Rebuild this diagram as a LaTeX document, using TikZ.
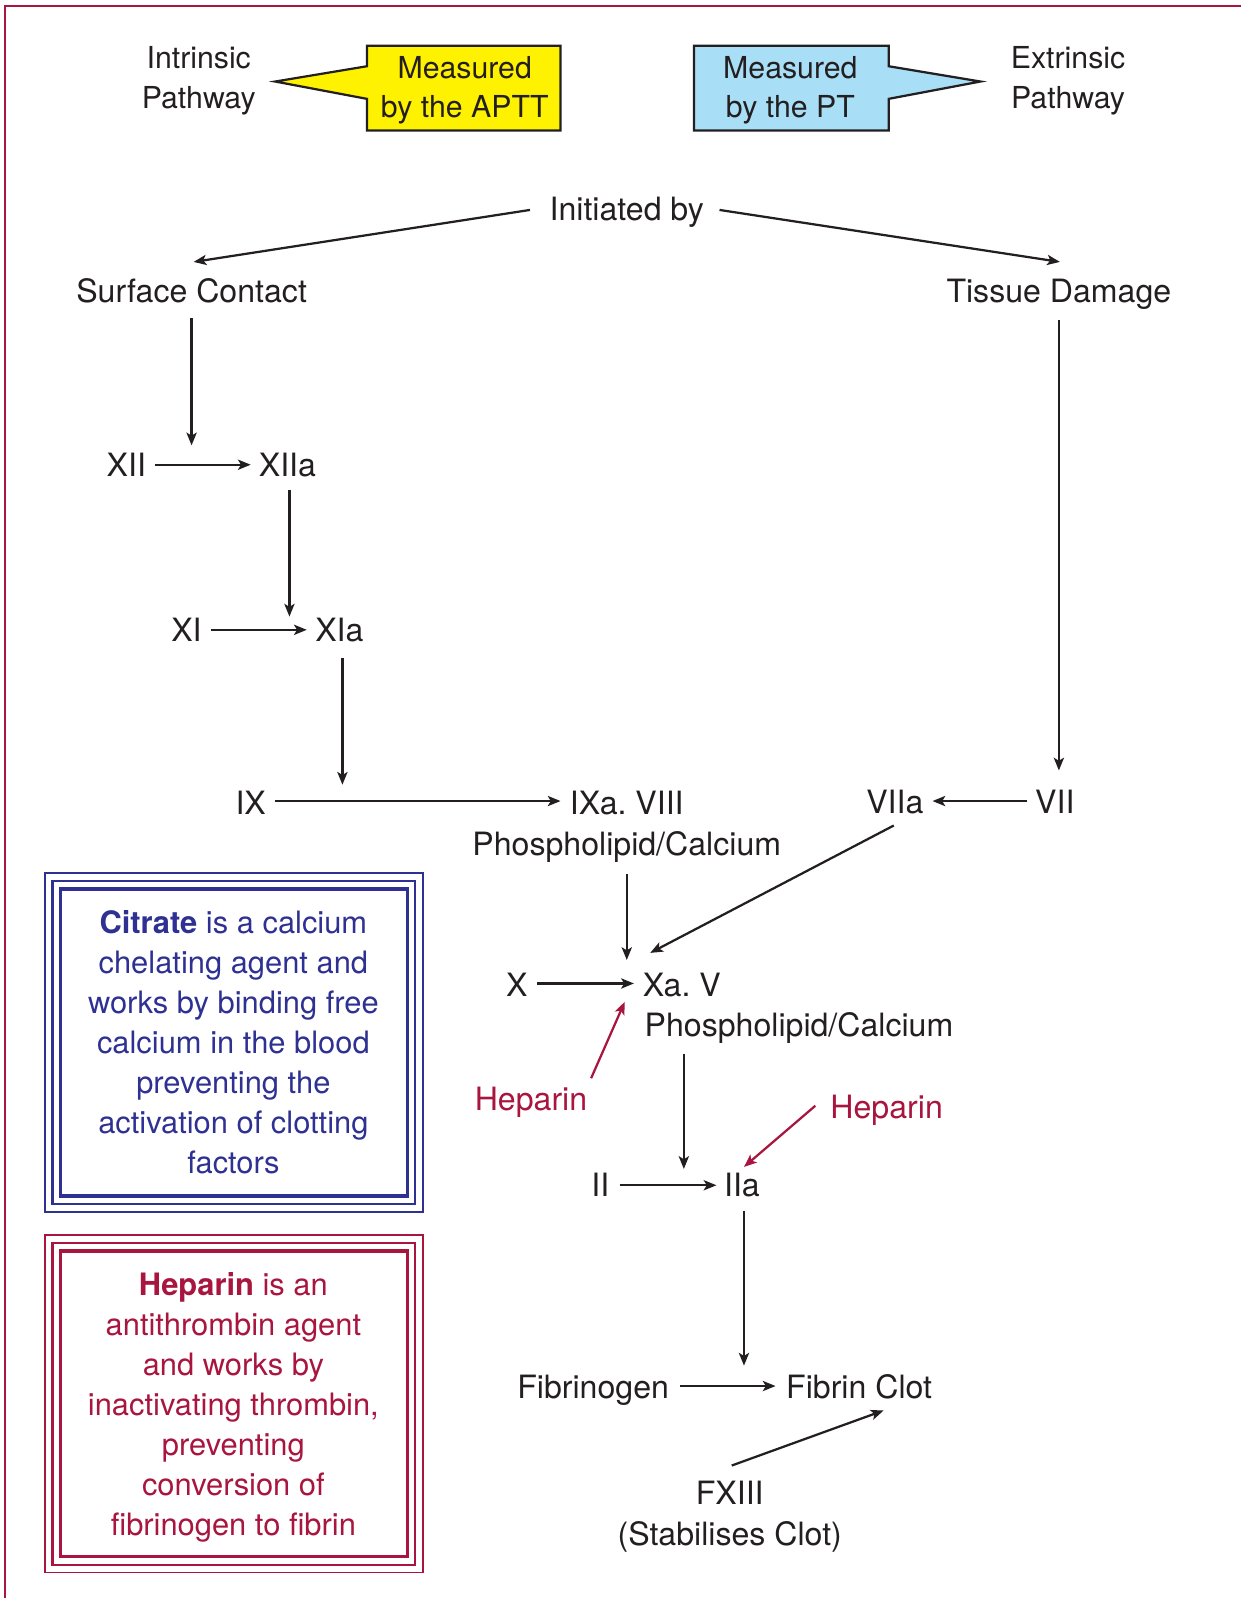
\documentclass[tikz,border=0pt]{standalone}
\usepackage{fontspec}
\setmainfont{TeX Gyre Heros}
\usetikzlibrary{arrows.meta}
\definecolor{ink}{RGB}{35,31,32}
\definecolor{crim}{RGB}{168,21,62}
\definecolor{navy}{RGB}{46,49,146}
\definecolor{ylw}{RGB}{255,242,0}
\definecolor{sky}{RGB}{168,222,246}
\frenchspacing
\begin{document}
\begin{tikzpicture}[x=1pt,y=-1pt,
  lab/.style={font=\fontsize{31.5}{39.3}\selectfont, text=ink, text height=22.7pt, text depth=0pt, inner sep=0pt},
  heplab/.style={lab, text=crim},
  multi/.style={align=center, inner sep=0pt, anchor=base},
  toptxt/.style={multi, font=\fontsize{29.7}{39}\selectfont, text=ink},
  boxtxt/.style={multi, font=\fontsize{30.3}{39.2}\selectfont},
  arr/.style={line width=2.2pt, draw=ink, -{Stealth[length=12.5pt,width=10pt,inset=3pt]}},
  harr/.style={arr, draw=crim},
  callout/.style={draw=ink, line width=2.2pt, line join=miter},
  frameline/.style={draw=crim, line width=2.2pt}
]
\useasboundingbox (0,0) rectangle (1217,1568);
% outer frame
\draw[frameline] (4.9,1570) -- (4.9,5.9) -- (1220,5.9);

% top labels and callouts (base = last line's baseline)
\node[toptxt] (intr) at (195,106.7) {Intrinsic\\Pathway};
\node[toptxt] (extr) at (1048,106.7) {Extrinsic\\Pathway};
\draw[callout, fill=ylw] (360,45) -- (550,45) -- (550,128) -- (360,128) -- (360,97) -- (270,80) -- (360,65) -- cycle;
\node[toptxt] (aptt) at (456,115.7) {Measured\\by the APTT};
\draw[callout, fill=sky] (681,45) -- (872,45) -- (872,65) -- (962,80) -- (872,97) -- (872,128) -- (681,128) -- cycle;
\node[toptxt] (pt) at (775.5,115.7) {Measured\\by the PT};

% flow nodes
\node[lab] (init) at (615,205) {Initiated by};
\node[lab] (SC) at (188,285) {Surface Contact};
\node[lab] (TD) at (1039,285) {Tissue Damage};
\node[lab] (XII) at (124,456) {XII};
\node[lab] (XIIa) at (282,456) {XIIa};
\node[lab] (XI) at (183,618) {XI};
\node[lab] (XIa) at (333,618) {XIa};
\node[lab] (IX) at (246,788) {IX};
\node[lab] (IXa) at (615,788) {IXa. VIII};
\node[lab] (phos1) at (615,828) {Phospholipid/Calcium};
\node[lab] (VIIa) at (878,787) {VIIa};
\node[lab] (VII) at (1035,787) {VII};
\node[lab] (X) at (507,966) {X};
\node[lab] (Xa) at (669,966) {Xa. V};
\node[lab] (phos2) at (784,1006) {Phospholipid/Calcium};
\node[heplab] (hep1) at (521,1078) {Heparin};
\node[heplab] (hep2) at (870,1086) {Heparin};
\node[lab] (II) at (589,1163) {II};
\node[lab] (IIa) at (728,1163) {IIa};
\node[lab] (fibg) at (582,1361) {Fibrinogen};
\node[lab] (fibc) at (843,1361) {Fibrin Clot};
\node[multi, font=\fontsize{31.5}{40}\selectfont, text=ink] (fxiii) at (716,1516.4) {FXIII\\(Stabilises Clot)};

% connectors
\draw[arr] ([shift={(-95,1)}]init.center) -- ([shift={(2,-28)}]SC.center);
\draw[arr] ([shift={(91,1)}]init.center) -- ([shift={(1,-28)}]TD.center);
\draw[arr] ([shift={(0,27)}]SC.center) -- ([shift={(64,-19)}]XII.center);
\draw[arr] ([shift={(28,0)}]XII.center) -- ([shift={(-36,0)}]XIIa.center);
\draw[arr] ([shift={(2,25)}]XIIa.center) -- ([shift={(-49,-13)}]XIa.center);
\draw[arr] ([shift={(24,0)}]XI.center) -- ([shift={(-32,0)}]XIa.center);
\draw[arr] ([shift={(3,28)}]XIa.center) -- ([shift={(90,-18)}]IX.center);
\draw[arr] ([shift={(24,-2)}]IX.center) -- ([shift={(-65,-2)}]IXa.center);
\draw[arr] ([shift={(0,29)}]TD.center) -- ([shift={(4,-31)}]VII.center);
\draw[arr] ([shift={(-27,-1)}]VII.center) -- ([shift={(37,-1)}]VIIa.center);
\draw[arr] ([shift={(-1,23)}]VIIa.center) -- ([shift={(-31,-31)}]Xa.center);
\draw[arr] ([shift={(0,30)}]phos1.center) -- ([shift={(-54,-24)}]Xa.center);
\draw[arr] ([shift={(20,-1)}]X.center) -- ([shift={(-47,-1)}]Xa.center);
\draw[harr] ([shift={(59,-20)}]hep1.center) -- ([shift={(-56,17)}]Xa.center);
\draw[arr] ([shift={(-113,28)}]phos2.center) -- ([shift={(-57,-16)}]IIa.center);
\draw[harr] ([shift={(-70,-1)}]hep2.center) -- ([shift={(2,-18)}]IIa.center);
\draw[arr] ([shift={(19,0)}]II.center) -- ([shift={(-25,0)}]IIa.center);
\draw[arr] ([shift={(2,25)}]IIa.center) -- ([shift={(-113,-21)}]fibc.center);
\draw[arr] ([shift={(85,-1)}]fibg.center) -- ([shift={(-82,-1)}]fibc.center);
\draw[arr] ([shift={(2,-78.4)}]fxiii.base) -- ([shift={(24,23)}]fibc.center);

% citrate box
\draw[navy, line width=1.8pt] (44,857) rectangle (415,1189);
\draw[navy, line width=2.4pt] (51.6,864.6) rectangle (407.4,1181.4);
\draw[navy, line width=3.2pt] (59.4,872.4) rectangle (399.6,1173.6);
\node[boxtxt, text=navy] (citr) at (229,1151.6) {\textbf{Citrate} is a calcium\\chelating agent and\\works by binding free\\calcium in the blood\\preventing the\\activation of clotting\\factors};

% heparin box
\draw[crim, line width=1.8pt] (44,1212) rectangle (415,1543);
\draw[crim, line width=2.4pt] (51.6,1219.6) rectangle (407.4,1535.4);
\draw[crim, line width=3.2pt] (59.4,1227.4) rectangle (399.6,1527.6);
\node[boxtxt, text=crim] (hepb) at (229,1506.6) {\textbf{Heparin} is an\\antithrombin agent\\and works by\\inactivating thrombin,\\preventing\\conversion of\\fibrinogen to fibrin};
\end{tikzpicture}
\end{document}
